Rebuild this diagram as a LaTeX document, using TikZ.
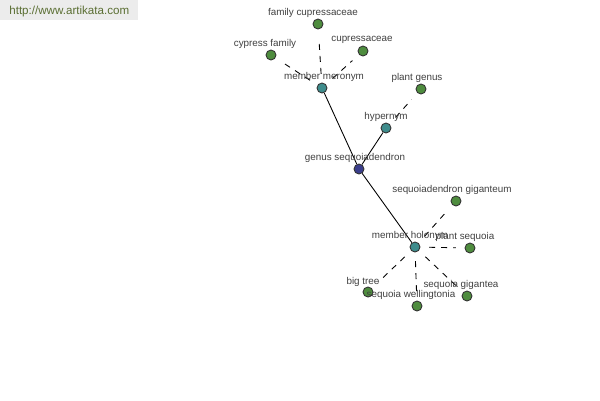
\documentclass[tikz,border=0pt]{standalone}
\usepackage{fontspec}
\setmainfont{Liberation Sans}
\begin{document}
\begin{tikzpicture}[x=0.02cm,y=-0.02cm,
  dot/.style={circle,draw=black!80,line width=0.5pt,minimum size=10*0.02cm,inner sep=0pt},
  leaf/.style={dot,fill=leafc},
  rel/.style={dot,fill=relc},
  root/.style={dot,fill=rootc},
  lbl/.style={font=\fontsize{5.6}{6}\selectfont,text=black!75,inner sep=0pt},
  solidedge/.style={draw=black,line width=0.5pt},
  dashedge/.style={draw=black,line width=0.5pt,dash pattern=on 3.4pt off 3.4pt,shorten <=5pt,shorten >=5pt}]
\definecolor{leafc}{RGB}{78,140,62}
\definecolor{relc}{RGB}{62,140,140}
\definecolor{rootc}{RGB}{58,62,140}
\definecolor{wmbg}{RGB}{236,236,236}
\definecolor{wmtext}{RGB}{90,110,50}
\useasboundingbox (0,0) rectangle (600,400);
\fill[white] (0,0) rectangle (600,400);
\fill[wmbg] (0,0) rectangle (138,20);
\node[anchor=west,font=\fontsize{6.6}{8}\selectfont,text=wmtext,inner sep=0pt] (wm) at (9,11) {http://www.artikata.com};
% nodes
\node[root] (gs) at (359,169) {};
\node[rel] (mm) at (322,88) {};
\node[rel] (hy) at (386,128) {};
\node[rel] (mh) at (415,247) {};
\node[leaf] (fc) at (318,24) {};
\node[leaf] (cf) at (271,55) {};
\node[leaf] (cu) at (363,51) {};
\node[leaf] (pg) at (421,89) {};
\node[leaf] (sg) at (456,201) {};
\node[leaf] (ps) at (470,248) {};
\node[leaf] (bt) at (368,292) {};
\node[leaf] (sw) at (417,306) {};
\node[leaf] (sga) at (467,296) {};
% edges
\draw[solidedge] (gs) -- (mm);
\draw[solidedge] (gs) -- (hy);
\draw[solidedge] (gs) -- (mh);
\draw[dashedge] (mm) -- (fc);
\draw[dashedge] (mm) -- (cf);
\draw[dashedge] (mm) -- (cu);
\draw[dashedge] (hy) -- (pg);
\draw[dashedge] (mh) -- (sg);
\draw[dashedge] (mh) -- (ps);
\draw[dashedge] (mh) -- (bt);
\draw[dashedge] (mh) -- (sw);
\draw[dashedge] (mh) -- (sga);
% labels
\node[lbl] (lfc) at (313,13) {family cupressaceae};
\node[lbl] (lcf) at (265,44) {cypress family};
\node[lbl] (lcu) at (362,40) {cupressaceae};
\node[lbl] (lmm) at (324,77) {member meronym};
\node[lbl] (lpg) at (417,78) {plant genus};
\node[lbl] (lhy) at (386,117) {hypernym};
\node[lbl] (lgs) at (355,158) {genus sequoiadendron};
\node[lbl] (lsg) at (452,190) {sequoiadendron giganteum};
\node[lbl] (lmh) at (410,236) {member holonym};
\node[lbl] (lps) at (465,237) {plant sequoia};
\node[lbl] (lbt) at (363,282) {big tree};
\node[lbl] (lsw) at (411,295) {sequoia wellingtonia};
\node[lbl] (lsga) at (461,285) {sequoia gigantea};
\end{tikzpicture}
\end{document}
